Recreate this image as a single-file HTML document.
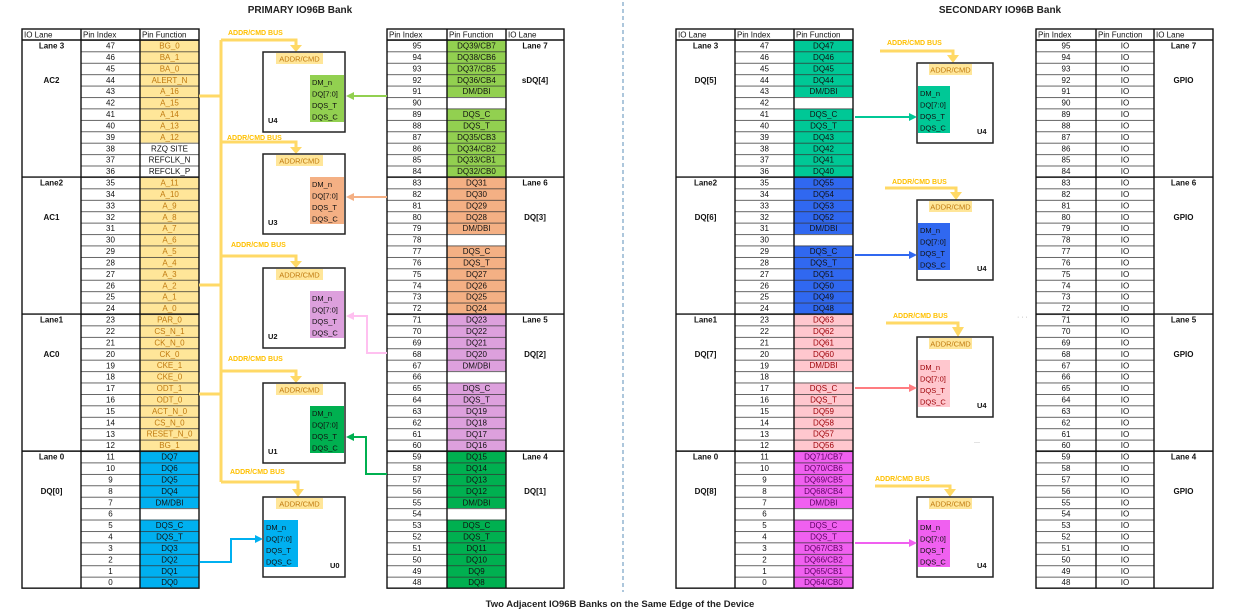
<!DOCTYPE html>
<html><head><meta charset="utf-8"><style>
html,body{margin:0;padding:0;background:#fff;}
svg{display:block;font-family:"Liberation Sans",sans-serif;}
.t{font-size:8px;fill:#111;text-anchor:middle;}
.h{font-size:8px;fill:#111;}
.b{font-size:8px;font-weight:bold;fill:#111;text-anchor:middle;}
.y{font-size:8px;fill:#c07a10;text-anchor:middle;}
.bus{font-size:7px;font-weight:bold;fill:#ffc000;}
.ac{font-size:7.5px;fill:#c07a10;text-anchor:middle;}
.dq{font-size:7.5px;fill:#111;}
.u{font-size:7.5px;font-weight:bold;fill:#111;}
</style></head><body>
<svg width="1238" height="612" viewBox="0 0 1238 612" xmlns="http://www.w3.org/2000/svg">
<defs>
<pattern id="rows" patternUnits="userSpaceOnUse" x="0" y="40" width="1238" height="11.42">
<line x1="0" y1="0.4" x2="1238" y2="0.4" stroke="#333" stroke-width="0.8"/>
</pattern>
<g id="pins47">
<tspan>x</tspan>
</g>
</defs>

<text x="300" y="13" style="font-size:10px;font-weight:bold;fill:#222" text-anchor="middle">PRIMARY IO96B Bank</text>
<text x="1000" y="13" style="font-size:10px;font-weight:bold;fill:#222" text-anchor="middle">SECONDARY IO96B Bank</text>
<text x="620" y="607" style="font-size:9.5px;font-weight:bold;fill:#222" text-anchor="middle">Two Adjacent IO96B Banks on the Same Edge of the Device</text>
<line x1="623" y1="2" x2="623" y2="592" stroke="#5b8fb9" stroke-width="1" stroke-dasharray="4,3"/>

<!-- ===== colored cells ===== -->
<!-- LP func col 140-199 -->
<rect x="140" y="40" width="59" height="102.78" fill="#ffe699"/>
<rect x="140" y="177.04" width="59" height="274.08" fill="#ffe699"/>
<rect x="140" y="451.12" width="59" height="57.1" fill="#00b0f0"/>
<rect x="140" y="519.64" width="59" height="68.52" fill="#00b0f0"/>
<!-- RP func col 447-506 -->
<rect x="447" y="40" width="59" height="57.1" fill="#92d050"/>
<rect x="447" y="108.52" width="59" height="68.52" fill="#92d050"/>
<rect x="447" y="177.04" width="59" height="57.1" fill="#f4b084"/>
<rect x="447" y="245.56" width="59" height="68.52" fill="#f4b084"/>
<rect x="447" y="314.08" width="59" height="57.1" fill="#dda0dd"/>
<rect x="447" y="382.6" width="59" height="68.52" fill="#dda0dd"/>
<rect x="447" y="451.12" width="59" height="57.1" fill="#00b050"/>
<rect x="447" y="519.64" width="59" height="68.52" fill="#00b050"/>
<!-- SL func col 794-853 -->
<rect x="794" y="40" width="59" height="57.1" fill="#00c896"/>
<rect x="794" y="108.52" width="59" height="68.52" fill="#00c896"/>
<rect x="794" y="177.04" width="59" height="57.1" fill="#3068f0"/>
<rect x="794" y="245.56" width="59" height="68.52" fill="#3068f0"/>
<rect x="794" y="314.08" width="59" height="57.1" fill="#ffc7ce"/>
<rect x="794" y="382.6" width="59" height="68.52" fill="#ffc7ce"/>
<rect x="794" y="451.12" width="59" height="57.1" fill="#f060f0"/>
<rect x="794" y="519.64" width="59" height="68.52" fill="#f060f0"/>

<!-- row lines -->
<rect x="81" y="40" width="118" height="548.16" fill="url(#rows)"/>
<rect x="387" y="40" width="119" height="548.16" fill="url(#rows)"/>
<rect x="735" y="40" width="118" height="548.16" fill="url(#rows)"/>
<rect x="1036" y="40" width="118" height="548.16" fill="url(#rows)"/>

<!-- table frames -->
<g fill="none" stroke="#111" stroke-width="1.4">
<rect x="22" y="29" width="177" height="559.16"/>
<rect x="387" y="29" width="177" height="559.16"/>
<rect x="676" y="29" width="177" height="559.16"/>
<rect x="1036" y="29" width="177" height="559.16"/>
<path d="M81 29V588.16M140 29V588.16M447 29V588.16M506 29V588.16M735 29V588.16M794 29V588.16M1096 29V588.16M1154 29V588.16"/>
<path d="M22 40H199M22 177.04H199M22 314.08H199M22 451.12H199"/>
<path d="M387 40H564M387 177.04H564M387 314.08H564M387 451.12H564"/>
<path d="M676 40H853M676 177.04H853M676 314.08H853M676 451.12H853"/>
<path d="M1036 40H1213M1036 177.04H1213M1036 314.08H1213M1036 451.12H1213"/>
</g>

<!-- headers -->
<text class="h" x="24" y="37.5">IO Lane</text><text class="h" x="83" y="37.5">Pin Index</text><text class="h" x="142" y="37.5">Pin Function</text>
<text class="h" x="389" y="37.5">Pin Index</text><text class="h" x="449" y="37.5">Pin Function</text><text class="h" x="508" y="37.5">IO Lane</text>
<text class="h" x="678" y="37.5">IO Lane</text><text class="h" x="737" y="37.5">Pin Index</text><text class="h" x="796" y="37.5">Pin Function</text>
<text class="h" x="1038" y="37.5">Pin Index</text><text class="h" x="1098" y="37.5">Pin Function</text><text class="h" x="1156" y="37.5">IO Lane</text>

<!-- lane labels -->
<text class="b" x="51.5" y="48.5">Lane 3</text><text class="b" x="51.5" y="83">AC2</text>
<text class="b" x="51.5" y="185.5">Lane2</text><text class="b" x="51.5" y="220">AC1</text>
<text class="b" x="51.5" y="322.5">Lane1</text><text class="b" x="51.5" y="357">AC0</text>
<text class="b" x="51.5" y="459.6">Lane 0</text><text class="b" x="51.5" y="494">DQ[0]</text>
<text class="b" x="535" y="48.5">Lane 7</text><text class="b" x="535" y="83">sDQ[4]</text>
<text class="b" x="535" y="185.5">Lane 6</text><text class="b" x="535" y="220">DQ[3]</text>
<text class="b" x="535" y="322.5">Lane 5</text><text class="b" x="535" y="357">DQ[2]</text>
<text class="b" x="535" y="459.6">Lane 4</text><text class="b" x="535" y="494">DQ[1]</text>
<text class="b" x="705.5" y="48.5">Lane 3</text><text class="b" x="705.5" y="83">DQ[5]</text>
<text class="b" x="705.5" y="185.5">Lane2</text><text class="b" x="705.5" y="220">DQ[6]</text>
<text class="b" x="705.5" y="322.5">Lane1</text><text class="b" x="705.5" y="357">DQ[7]</text>
<text class="b" x="705.5" y="459.6">Lane 0</text><text class="b" x="705.5" y="494">DQ[8]</text>
<text class="b" x="1183.5" y="48.5">Lane 7</text><text class="b" x="1183.5" y="83">GPIO</text>
<text class="b" x="1183.5" y="185.5">Lane 6</text><text class="b" x="1183.5" y="220">GPIO</text>
<text class="b" x="1183.5" y="322.5">Lane 5</text><text class="b" x="1183.5" y="357">GPIO</text>
<text class="b" x="1183.5" y="459.6">Lane 4</text><text class="b" x="1183.5" y="494">GPIO</text>

<!-- LP pins -->
<text class="t"><tspan x="110.5" y="48.5">47</tspan><tspan x="110.5" dy="11.42">46</tspan><tspan x="110.5" dy="11.42">45</tspan><tspan x="110.5" dy="11.42">44</tspan><tspan x="110.5" dy="11.42">43</tspan><tspan x="110.5" dy="11.42">42</tspan><tspan x="110.5" dy="11.42">41</tspan><tspan x="110.5" dy="11.42">40</tspan><tspan x="110.5" dy="11.42">39</tspan><tspan x="110.5" dy="11.42">38</tspan><tspan x="110.5" dy="11.42">37</tspan><tspan x="110.5" dy="11.42">36</tspan><tspan x="110.5" dy="11.42">35</tspan><tspan x="110.5" dy="11.42">34</tspan><tspan x="110.5" dy="11.42">33</tspan><tspan x="110.5" dy="11.42">32</tspan><tspan x="110.5" dy="11.42">31</tspan><tspan x="110.5" dy="11.42">30</tspan><tspan x="110.5" dy="11.42">29</tspan><tspan x="110.5" dy="11.42">28</tspan><tspan x="110.5" dy="11.42">27</tspan><tspan x="110.5" dy="11.42">26</tspan><tspan x="110.5" dy="11.42">25</tspan><tspan x="110.5" dy="11.42">24</tspan><tspan x="110.5" dy="11.42">23</tspan><tspan x="110.5" dy="11.42">22</tspan><tspan x="110.5" dy="11.42">21</tspan><tspan x="110.5" dy="11.42">20</tspan><tspan x="110.5" dy="11.42">19</tspan><tspan x="110.5" dy="11.42">18</tspan><tspan x="110.5" dy="11.42">17</tspan><tspan x="110.5" dy="11.42">16</tspan><tspan x="110.5" dy="11.42">15</tspan><tspan x="110.5" dy="11.42">14</tspan><tspan x="110.5" dy="11.42">13</tspan><tspan x="110.5" dy="11.42">12</tspan><tspan x="110.5" dy="11.42">11</tspan><tspan x="110.5" dy="11.42">10</tspan><tspan x="110.5" dy="11.42">9</tspan><tspan x="110.5" dy="11.42">8</tspan><tspan x="110.5" dy="11.42">7</tspan><tspan x="110.5" dy="11.42">6</tspan><tspan x="110.5" dy="11.42">5</tspan><tspan x="110.5" dy="11.42">4</tspan><tspan x="110.5" dy="11.42">3</tspan><tspan x="110.5" dy="11.42">2</tspan><tspan x="110.5" dy="11.42">1</tspan><tspan x="110.5" dy="11.42">0</tspan></text>
<!-- SL pins -->
<text class="t"><tspan x="764.5" y="48.5">47</tspan><tspan x="764.5" dy="11.42">46</tspan><tspan x="764.5" dy="11.42">45</tspan><tspan x="764.5" dy="11.42">44</tspan><tspan x="764.5" dy="11.42">43</tspan><tspan x="764.5" dy="11.42">42</tspan><tspan x="764.5" dy="11.42">41</tspan><tspan x="764.5" dy="11.42">40</tspan><tspan x="764.5" dy="11.42">39</tspan><tspan x="764.5" dy="11.42">38</tspan><tspan x="764.5" dy="11.42">37</tspan><tspan x="764.5" dy="11.42">36</tspan><tspan x="764.5" dy="11.42">35</tspan><tspan x="764.5" dy="11.42">34</tspan><tspan x="764.5" dy="11.42">33</tspan><tspan x="764.5" dy="11.42">32</tspan><tspan x="764.5" dy="11.42">31</tspan><tspan x="764.5" dy="11.42">30</tspan><tspan x="764.5" dy="11.42">29</tspan><tspan x="764.5" dy="11.42">28</tspan><tspan x="764.5" dy="11.42">27</tspan><tspan x="764.5" dy="11.42">26</tspan><tspan x="764.5" dy="11.42">25</tspan><tspan x="764.5" dy="11.42">24</tspan><tspan x="764.5" dy="11.42">23</tspan><tspan x="764.5" dy="11.42">22</tspan><tspan x="764.5" dy="11.42">21</tspan><tspan x="764.5" dy="11.42">20</tspan><tspan x="764.5" dy="11.42">19</tspan><tspan x="764.5" dy="11.42">18</tspan><tspan x="764.5" dy="11.42">17</tspan><tspan x="764.5" dy="11.42">16</tspan><tspan x="764.5" dy="11.42">15</tspan><tspan x="764.5" dy="11.42">14</tspan><tspan x="764.5" dy="11.42">13</tspan><tspan x="764.5" dy="11.42">12</tspan><tspan x="764.5" dy="11.42">11</tspan><tspan x="764.5" dy="11.42">10</tspan><tspan x="764.5" dy="11.42">9</tspan><tspan x="764.5" dy="11.42">8</tspan><tspan x="764.5" dy="11.42">7</tspan><tspan x="764.5" dy="11.42">6</tspan><tspan x="764.5" dy="11.42">5</tspan><tspan x="764.5" dy="11.42">4</tspan><tspan x="764.5" dy="11.42">3</tspan><tspan x="764.5" dy="11.42">2</tspan><tspan x="764.5" dy="11.42">1</tspan><tspan x="764.5" dy="11.42">0</tspan></text>
<!-- RP pins -->
<text class="t"><tspan x="417" y="48.5">95</tspan><tspan x="417" dy="11.42">94</tspan><tspan x="417" dy="11.42">93</tspan><tspan x="417" dy="11.42">92</tspan><tspan x="417" dy="11.42">91</tspan><tspan x="417" dy="11.42">90</tspan><tspan x="417" dy="11.42">89</tspan><tspan x="417" dy="11.42">88</tspan><tspan x="417" dy="11.42">87</tspan><tspan x="417" dy="11.42">86</tspan><tspan x="417" dy="11.42">85</tspan><tspan x="417" dy="11.42">84</tspan><tspan x="417" dy="11.42">83</tspan><tspan x="417" dy="11.42">82</tspan><tspan x="417" dy="11.42">81</tspan><tspan x="417" dy="11.42">80</tspan><tspan x="417" dy="11.42">79</tspan><tspan x="417" dy="11.42">78</tspan><tspan x="417" dy="11.42">77</tspan><tspan x="417" dy="11.42">76</tspan><tspan x="417" dy="11.42">75</tspan><tspan x="417" dy="11.42">74</tspan><tspan x="417" dy="11.42">73</tspan><tspan x="417" dy="11.42">72</tspan><tspan x="417" dy="11.42">71</tspan><tspan x="417" dy="11.42">70</tspan><tspan x="417" dy="11.42">69</tspan><tspan x="417" dy="11.42">68</tspan><tspan x="417" dy="11.42">67</tspan><tspan x="417" dy="11.42">66</tspan><tspan x="417" dy="11.42">65</tspan><tspan x="417" dy="11.42">64</tspan><tspan x="417" dy="11.42">63</tspan><tspan x="417" dy="11.42">62</tspan><tspan x="417" dy="11.42">61</tspan><tspan x="417" dy="11.42">60</tspan><tspan x="417" dy="11.42">59</tspan><tspan x="417" dy="11.42">58</tspan><tspan x="417" dy="11.42">57</tspan><tspan x="417" dy="11.42">56</tspan><tspan x="417" dy="11.42">55</tspan><tspan x="417" dy="11.42">54</tspan><tspan x="417" dy="11.42">53</tspan><tspan x="417" dy="11.42">52</tspan><tspan x="417" dy="11.42">51</tspan><tspan x="417" dy="11.42">50</tspan><tspan x="417" dy="11.42">49</tspan><tspan x="417" dy="11.42">48</tspan></text>
<!-- SR pins -->
<text class="t"><tspan x="1066" y="48.5">95</tspan><tspan x="1066" dy="11.42">94</tspan><tspan x="1066" dy="11.42">93</tspan><tspan x="1066" dy="11.42">92</tspan><tspan x="1066" dy="11.42">91</tspan><tspan x="1066" dy="11.42">90</tspan><tspan x="1066" dy="11.42">89</tspan><tspan x="1066" dy="11.42">88</tspan><tspan x="1066" dy="11.42">87</tspan><tspan x="1066" dy="11.42">86</tspan><tspan x="1066" dy="11.42">85</tspan><tspan x="1066" dy="11.42">84</tspan><tspan x="1066" dy="11.42">83</tspan><tspan x="1066" dy="11.42">82</tspan><tspan x="1066" dy="11.42">81</tspan><tspan x="1066" dy="11.42">80</tspan><tspan x="1066" dy="11.42">79</tspan><tspan x="1066" dy="11.42">78</tspan><tspan x="1066" dy="11.42">77</tspan><tspan x="1066" dy="11.42">76</tspan><tspan x="1066" dy="11.42">75</tspan><tspan x="1066" dy="11.42">74</tspan><tspan x="1066" dy="11.42">73</tspan><tspan x="1066" dy="11.42">72</tspan><tspan x="1066" dy="11.42">71</tspan><tspan x="1066" dy="11.42">70</tspan><tspan x="1066" dy="11.42">69</tspan><tspan x="1066" dy="11.42">68</tspan><tspan x="1066" dy="11.42">67</tspan><tspan x="1066" dy="11.42">66</tspan><tspan x="1066" dy="11.42">65</tspan><tspan x="1066" dy="11.42">64</tspan><tspan x="1066" dy="11.42">63</tspan><tspan x="1066" dy="11.42">62</tspan><tspan x="1066" dy="11.42">61</tspan><tspan x="1066" dy="11.42">60</tspan><tspan x="1066" dy="11.42">59</tspan><tspan x="1066" dy="11.42">58</tspan><tspan x="1066" dy="11.42">57</tspan><tspan x="1066" dy="11.42">56</tspan><tspan x="1066" dy="11.42">55</tspan><tspan x="1066" dy="11.42">54</tspan><tspan x="1066" dy="11.42">53</tspan><tspan x="1066" dy="11.42">52</tspan><tspan x="1066" dy="11.42">51</tspan><tspan x="1066" dy="11.42">50</tspan><tspan x="1066" dy="11.42">49</tspan><tspan x="1066" dy="11.42">48</tspan></text>
<!-- SR func IO -->
<text class="t"><tspan x="1125" y="48.5">IO</tspan><tspan x="1125" dy="11.42">IO</tspan><tspan x="1125" dy="11.42">IO</tspan><tspan x="1125" dy="11.42">IO</tspan><tspan x="1125" dy="11.42">IO</tspan><tspan x="1125" dy="11.42">IO</tspan><tspan x="1125" dy="11.42">IO</tspan><tspan x="1125" dy="11.42">IO</tspan><tspan x="1125" dy="11.42">IO</tspan><tspan x="1125" dy="11.42">IO</tspan><tspan x="1125" dy="11.42">IO</tspan><tspan x="1125" dy="11.42">IO</tspan><tspan x="1125" dy="11.42">IO</tspan><tspan x="1125" dy="11.42">IO</tspan><tspan x="1125" dy="11.42">IO</tspan><tspan x="1125" dy="11.42">IO</tspan><tspan x="1125" dy="11.42">IO</tspan><tspan x="1125" dy="11.42">IO</tspan><tspan x="1125" dy="11.42">IO</tspan><tspan x="1125" dy="11.42">IO</tspan><tspan x="1125" dy="11.42">IO</tspan><tspan x="1125" dy="11.42">IO</tspan><tspan x="1125" dy="11.42">IO</tspan><tspan x="1125" dy="11.42">IO</tspan><tspan x="1125" dy="11.42">IO</tspan><tspan x="1125" dy="11.42">IO</tspan><tspan x="1125" dy="11.42">IO</tspan><tspan x="1125" dy="11.42">IO</tspan><tspan x="1125" dy="11.42">IO</tspan><tspan x="1125" dy="11.42">IO</tspan><tspan x="1125" dy="11.42">IO</tspan><tspan x="1125" dy="11.42">IO</tspan><tspan x="1125" dy="11.42">IO</tspan><tspan x="1125" dy="11.42">IO</tspan><tspan x="1125" dy="11.42">IO</tspan><tspan x="1125" dy="11.42">IO</tspan><tspan x="1125" dy="11.42">IO</tspan><tspan x="1125" dy="11.42">IO</tspan><tspan x="1125" dy="11.42">IO</tspan><tspan x="1125" dy="11.42">IO</tspan><tspan x="1125" dy="11.42">IO</tspan><tspan x="1125" dy="11.42">IO</tspan><tspan x="1125" dy="11.42">IO</tspan><tspan x="1125" dy="11.42">IO</tspan><tspan x="1125" dy="11.42">IO</tspan><tspan x="1125" dy="11.42">IO</tspan><tspan x="1125" dy="11.42">IO</tspan><tspan x="1125" dy="11.42">IO</tspan></text>

<!-- LP functions -->
<text class="y"><tspan x="169.5" y="48.5">BG_0</tspan><tspan x="169.5" dy="11.42">BA_1</tspan><tspan x="169.5" dy="11.42">BA_0</tspan><tspan x="169.5" dy="11.42">ALERT_N</tspan><tspan x="169.5" dy="11.42">A_16</tspan><tspan x="169.5" dy="11.42">A_15</tspan><tspan x="169.5" dy="11.42">A_14</tspan><tspan x="169.5" dy="11.42">A_13</tspan><tspan x="169.5" dy="11.42">A_12</tspan></text>
<text class="t"><tspan x="169.5" y="151.3">RZQ SITE</tspan><tspan x="169.5" dy="11.42">REFCLK_N</tspan><tspan x="169.5" dy="11.42">REFCLK_P</tspan></text>
<text class="y"><tspan x="169.5" y="185.5">A_11</tspan><tspan x="169.5" dy="11.42">A_10</tspan><tspan x="169.5" dy="11.42">A_9</tspan><tspan x="169.5" dy="11.42">A_8</tspan><tspan x="169.5" dy="11.42">A_7</tspan><tspan x="169.5" dy="11.42">A_6</tspan><tspan x="169.5" dy="11.42">A_5</tspan><tspan x="169.5" dy="11.42">A_4</tspan><tspan x="169.5" dy="11.42">A_3</tspan><tspan x="169.5" dy="11.42">A_2</tspan><tspan x="169.5" dy="11.42">A_1</tspan><tspan x="169.5" dy="11.42">A_0</tspan><tspan x="169.5" dy="11.42">PAR_0</tspan><tspan x="169.5" dy="11.42">CS_N_1</tspan><tspan x="169.5" dy="11.42">CK_N_0</tspan><tspan x="169.5" dy="11.42">CK_0</tspan><tspan x="169.5" dy="11.42">CKE_1</tspan><tspan x="169.5" dy="11.42">CKE_0</tspan><tspan x="169.5" dy="11.42">ODT_1</tspan><tspan x="169.5" dy="11.42">ODT_0</tspan><tspan x="169.5" dy="11.42">ACT_N_0</tspan><tspan x="169.5" dy="11.42">CS_N_0</tspan><tspan x="169.5" dy="11.42">RESET_N_0</tspan><tspan x="169.5" dy="11.42">BG_1</tspan></text>
<text class="t"><tspan x="169.5" y="459.6">DQ7</tspan><tspan x="169.5" dy="11.42">DQ6</tspan><tspan x="169.5" dy="11.42">DQ5</tspan><tspan x="169.5" dy="11.42">DQ4</tspan><tspan x="169.5" dy="11.42">DM/DBI</tspan><tspan x="169.5" dy="11.42"> </tspan><tspan x="169.5" dy="11.42">DQS_C</tspan><tspan x="169.5" dy="11.42">DQS_T</tspan><tspan x="169.5" dy="11.42">DQ3</tspan><tspan x="169.5" dy="11.42">DQ2</tspan><tspan x="169.5" dy="11.42">DQ1</tspan><tspan x="169.5" dy="11.42">DQ0</tspan></text>

<!-- RP functions -->
<text class="t"><tspan x="476.5" y="48.5">DQ39/CB7</tspan><tspan x="476.5" dy="11.42">DQ38/CB6</tspan><tspan x="476.5" dy="11.42">DQ37/CB5</tspan><tspan x="476.5" dy="11.42">DQ36/CB4</tspan><tspan x="476.5" dy="11.42">DM/DBI</tspan><tspan x="476.5" dy="11.42"> </tspan><tspan x="476.5" dy="11.42">DQS_C</tspan><tspan x="476.5" dy="11.42">DQS_T</tspan><tspan x="476.5" dy="11.42">DQ35/CB3</tspan><tspan x="476.5" dy="11.42">DQ34/CB2</tspan><tspan x="476.5" dy="11.42">DQ33/CB1</tspan><tspan x="476.5" dy="11.42">DQ32/CB0</tspan><tspan x="476.5" dy="11.42">DQ31</tspan><tspan x="476.5" dy="11.42">DQ30</tspan><tspan x="476.5" dy="11.42">DQ29</tspan><tspan x="476.5" dy="11.42">DQ28</tspan><tspan x="476.5" dy="11.42">DM/DBI</tspan><tspan x="476.5" dy="11.42"> </tspan><tspan x="476.5" dy="11.42">DQS_C</tspan><tspan x="476.5" dy="11.42">DQS_T</tspan><tspan x="476.5" dy="11.42">DQ27</tspan><tspan x="476.5" dy="11.42">DQ26</tspan><tspan x="476.5" dy="11.42">DQ25</tspan><tspan x="476.5" dy="11.42">DQ24</tspan><tspan x="476.5" dy="11.42">DQ23</tspan><tspan x="476.5" dy="11.42">DQ22</tspan><tspan x="476.5" dy="11.42">DQ21</tspan><tspan x="476.5" dy="11.42">DQ20</tspan><tspan x="476.5" dy="11.42">DM/DBI</tspan><tspan x="476.5" dy="11.42"> </tspan><tspan x="476.5" dy="11.42">DQS_C</tspan><tspan x="476.5" dy="11.42">DQS_T</tspan><tspan x="476.5" dy="11.42">DQ19</tspan><tspan x="476.5" dy="11.42">DQ18</tspan><tspan x="476.5" dy="11.42">DQ17</tspan><tspan x="476.5" dy="11.42">DQ16</tspan><tspan x="476.5" dy="11.42">DQ15</tspan><tspan x="476.5" dy="11.42">DQ14</tspan><tspan x="476.5" dy="11.42">DQ13</tspan><tspan x="476.5" dy="11.42">DQ12</tspan><tspan x="476.5" dy="11.42">DM/DBI</tspan><tspan x="476.5" dy="11.42"> </tspan><tspan x="476.5" dy="11.42">DQS_C</tspan><tspan x="476.5" dy="11.42">DQS_T</tspan><tspan x="476.5" dy="11.42">DQ11</tspan><tspan x="476.5" dy="11.42">DQ10</tspan><tspan x="476.5" dy="11.42">DQ9</tspan><tspan x="476.5" dy="11.42">DQ8</tspan></text>

<!-- SL functions -->
<text class="t"><tspan x="823.5" y="48.5">DQ47</tspan><tspan x="823.5" dy="11.42">DQ46</tspan><tspan x="823.5" dy="11.42">DQ45</tspan><tspan x="823.5" dy="11.42">DQ44</tspan><tspan x="823.5" dy="11.42">DM/DBI</tspan><tspan x="823.5" dy="11.42"> </tspan><tspan x="823.5" dy="11.42">DQS_C</tspan><tspan x="823.5" dy="11.42">DQS_T</tspan><tspan x="823.5" dy="11.42">DQ43</tspan><tspan x="823.5" dy="11.42">DQ42</tspan><tspan x="823.5" dy="11.42">DQ41</tspan><tspan x="823.5" dy="11.42">DQ40</tspan><tspan x="823.5" dy="11.42">DQ55</tspan><tspan x="823.5" dy="11.42">DQ54</tspan><tspan x="823.5" dy="11.42">DQ53</tspan><tspan x="823.5" dy="11.42">DQ52</tspan><tspan x="823.5" dy="11.42">DM/DBI</tspan><tspan x="823.5" dy="11.42"> </tspan><tspan x="823.5" dy="11.42">DQS_C</tspan><tspan x="823.5" dy="11.42">DQS_T</tspan><tspan x="823.5" dy="11.42">DQ51</tspan><tspan x="823.5" dy="11.42">DQ50</tspan><tspan x="823.5" dy="11.42">DQ49</tspan><tspan x="823.5" dy="11.42">DQ48</tspan></text>
<text class="t" style="fill:#9c0006"><tspan x="823.5" y="322.5">DQ63</tspan><tspan x="823.5" dy="11.42">DQ62</tspan><tspan x="823.5" dy="11.42">DQ61</tspan><tspan x="823.5" dy="11.42">DQ60</tspan><tspan x="823.5" dy="11.42">DM/DBI</tspan><tspan x="823.5" dy="11.42"> </tspan><tspan x="823.5" dy="11.42">DQS_C</tspan><tspan x="823.5" dy="11.42">DQS_T</tspan><tspan x="823.5" dy="11.42">DQ59</tspan><tspan x="823.5" dy="11.42">DQ58</tspan><tspan x="823.5" dy="11.42">DQ57</tspan><tspan x="823.5" dy="11.42">DQ56</tspan></text>
<text class="t" style="fill:#5a0060"><tspan x="823.5" y="459.6">DQ71/CB7</tspan><tspan x="823.5" dy="11.42">DQ70/CB6</tspan><tspan x="823.5" dy="11.42">DQ69/CB5</tspan><tspan x="823.5" dy="11.42">DQ68/CB4</tspan><tspan x="823.5" dy="11.42">DM/DBI</tspan><tspan x="823.5" dy="11.42"> </tspan><tspan x="823.5" dy="11.42">DQS_C</tspan><tspan x="823.5" dy="11.42">DQS_T</tspan><tspan x="823.5" dy="11.42">DQ67/CB3</tspan><tspan x="823.5" dy="11.42">DQ66/CB2</tspan><tspan x="823.5" dy="11.42">DQ65/CB1</tspan><tspan x="823.5" dy="11.42">DQ64/CB0</tspan></text>

<!-- ===== Primary bus ===== -->
<g stroke="#ffd966" stroke-width="3" fill="none">
<path d="M221 40V482"/>
<path d="M199 96H221M199 285H221M199 394H221"/>
<path d="M221 40H296V46M221 142H296V148M221 256H296V262M221 371H296V377M221 482H298V490"/>
</g>
<g fill="#ffd966">
<polygon points="290,45 302,45 296,52"/>
<polygon points="290,147 302,147 296,154"/>
<polygon points="290,261 302,261 296,268"/>
<polygon points="290,376 302,376 296,383"/>
<polygon points="292,489 304,489 298,497"/>
</g>
<text class="bus" x="228" y="35">ADDR/CMD BUS</text>
<text class="bus" x="227" y="140">ADDR/CMD BUS</text>
<text class="bus" x="231" y="247">ADDR/CMD BUS</text>
<text class="bus" x="228" y="361">ADDR/CMD BUS</text>
<text class="bus" x="230" y="474">ADDR/CMD BUS</text>

<!-- primary chips -->
<g transform="translate(263,52)">
<rect x="0" y="0" width="82" height="80" fill="#fff" stroke="#222" stroke-width="1.5"/>
<rect x="13" y="1" width="47" height="11" fill="#ffe699"/><text class="ac" x="36.5" y="9.5">ADDR/CMD</text>
<rect x="47" y="23" width="34" height="47" fill="#92d050"/>
<text class="dq" x="49" y="33">DM_n</text><text class="dq" x="49" y="44.5">DQ[7:0]</text><text class="dq" x="49" y="56">DQS_T</text><text class="dq" x="49" y="67.5">DQS_C</text>
<text class="u" x="5" y="71">U4</text></g>
<g transform="translate(263,154)">
<rect x="0" y="0" width="82" height="80" fill="#fff" stroke="#222" stroke-width="1.5"/>
<rect x="13" y="1" width="47" height="11" fill="#ffe699"/><text class="ac" x="36.5" y="9.5">ADDR/CMD</text>
<rect x="47" y="23" width="34" height="47" fill="#f4b084"/>
<text class="dq" x="49" y="33">DM_n</text><text class="dq" x="49" y="44.5">DQ[7:0]</text><text class="dq" x="49" y="56">DQS_T</text><text class="dq" x="49" y="67.5">DQS_C</text>
<text class="u" x="5" y="71">U3</text></g>
<g transform="translate(263,268)">
<rect x="0" y="0" width="82" height="80" fill="#fff" stroke="#222" stroke-width="1.5"/>
<rect x="13" y="1" width="47" height="11" fill="#ffe699"/><text class="ac" x="36.5" y="9.5">ADDR/CMD</text>
<rect x="47" y="23" width="34" height="47" fill="#dda0dd"/>
<text class="dq" x="49" y="33">DM_n</text><text class="dq" x="49" y="44.5">DQ[7:0]</text><text class="dq" x="49" y="56">DQS_T</text><text class="dq" x="49" y="67.5">DQS_C</text>
<text class="u" x="5" y="71">U2</text></g>
<g transform="translate(263,383)">
<rect x="0" y="0" width="82" height="80" fill="#fff" stroke="#222" stroke-width="1.5"/>
<rect x="13" y="1" width="47" height="11" fill="#ffe699"/><text class="ac" x="36.5" y="9.5">ADDR/CMD</text>
<rect x="47" y="23" width="34" height="47" fill="#00b050"/>
<text class="dq" x="49" y="33">DM_n</text><text class="dq" x="49" y="44.5">DQ[7:0]</text><text class="dq" x="49" y="56">DQS_T</text><text class="dq" x="49" y="67.5">DQS_C</text>
<text class="u" x="5" y="71">U1</text></g>
<g transform="translate(263,497)">
<rect x="0" y="0" width="82" height="80" fill="#fff" stroke="#222" stroke-width="1.5"/>
<rect x="13" y="1" width="47" height="11" fill="#ffe699"/><text class="ac" x="36.5" y="9.5">ADDR/CMD</text>
<rect x="1" y="23" width="34" height="47" fill="#00b0f0"/>
<text class="dq" x="3" y="33">DM_n</text><text class="dq" x="3" y="44.5">DQ[7:0]</text><text class="dq" x="3" y="56">DQS_T</text><text class="dq" x="3" y="67.5">DQS_C</text>
<text class="u" x="67" y="71">U0</text></g>

<!-- primary data arrows -->
<g fill="none" stroke-width="2">
<path d="M387 96H352" stroke="#92d050"/>
<path d="M387 197H352" stroke="#f4b084"/>
<path d="M387 353H367V316H352" stroke="#ffc0f0"/>
<path d="M387 474H366V437H352" stroke="#00b050"/>
<path d="M200 562H231V539H256" stroke="#00b0f0"/>
</g>
<polygon points="346,96 354,92 354,100" fill="#92d050"/>
<polygon points="346,197 354,193 354,201" fill="#f4b084"/>
<polygon points="346,316 354,312 354,320" fill="#ffc0f0"/>
<polygon points="346,437 354,433 354,441" fill="#00b050"/>
<polygon points="263,539 255,535 255,543" fill="#00b0f0"/>

<!-- ===== Secondary bus & chips ===== -->
<g stroke="#ffd966" stroke-width="3" fill="none">
<path d="M880 51H953V56M885 188H956V193M886 323H958V328M875 486H950V490"/>
</g>
<g fill="#ffd966">
<polygon points="947,55 959,55 953,63"/>
<polygon points="950,192 962,192 956,200"/>
<polygon points="952,327 964,327 958,337"/>
<polygon points="944,489 956,489 950,497"/>
</g>
<text class="bus" x="887" y="45">ADDR/CMD BUS</text>
<text class="bus" x="892" y="184">ADDR/CMD BUS</text>
<text class="bus" x="893" y="318">ADDR/CMD BUS</text>
<text class="bus" x="875" y="481">ADDR/CMD BUS</text>

<g transform="translate(917,63)">
<rect x="0" y="0" width="76" height="80" fill="#fff" stroke="#222" stroke-width="1.5"/>
<rect x="12" y="1" width="43" height="11" fill="#ffe699"/><text class="ac" x="33.5" y="9.5">ADDR/CMD</text>
<rect x="1" y="23" width="32" height="47" fill="#00c896"/>
<text class="dq" x="3" y="33">DM_n</text><text class="dq" x="3" y="44.5">DQ[7:0]</text><text class="dq" x="3" y="56">DQS_T</text><text class="dq" x="3" y="67.5">DQS_C</text>
<text class="u" x="60" y="71">U4</text></g>
<g transform="translate(917,200)">
<rect x="0" y="0" width="76" height="80" fill="#fff" stroke="#222" stroke-width="1.5"/>
<rect x="12" y="1" width="43" height="11" fill="#ffe699"/><text class="ac" x="33.5" y="9.5">ADDR/CMD</text>
<rect x="1" y="23" width="32" height="47" fill="#3068f0"/>
<text class="dq" x="3" y="33">DM_n</text><text class="dq" x="3" y="44.5">DQ[7:0]</text><text class="dq" x="3" y="56">DQS_T</text><text class="dq" x="3" y="67.5">DQS_C</text>
<text class="u" x="60" y="71">U4</text></g>
<g transform="translate(917,337)">
<rect x="0" y="0" width="76" height="80" fill="#fff" stroke="#222" stroke-width="1.5"/>
<rect x="12" y="1" width="43" height="11" fill="#ffe699"/><text class="ac" x="33.5" y="9.5">ADDR/CMD</text>
<rect x="1" y="23" width="32" height="47" fill="#ffc7ce"/>
<g style="fill:#9c0006"><text class="dq" x="3" y="33" style="fill:#9c0006">DM_n</text><text class="dq" x="3" y="44.5" style="fill:#9c0006">DQ[7:0]</text><text class="dq" x="3" y="56" style="fill:#9c0006">DQS_T</text><text class="dq" x="3" y="67.5" style="fill:#9c0006">DQS_C</text></g>
<text class="u" x="60" y="71">U4</text></g>
<g transform="translate(917,497)">
<rect x="0" y="0" width="76" height="80" fill="#fff" stroke="#222" stroke-width="1.5"/>
<rect x="12" y="1" width="43" height="11" fill="#ffe699"/><text class="ac" x="33.5" y="9.5">ADDR/CMD</text>
<rect x="1" y="23" width="32" height="47" fill="#f060f0"/>
<text class="dq" x="3" y="33">DM_n</text><text class="dq" x="3" y="44.5">DQ[7:0]</text><text class="dq" x="3" y="56">DQS_T</text><text class="dq" x="3" y="67.5">DQS_C</text>
<text class="u" x="60" y="71">U4</text></g>

<g fill="none" stroke-width="2">
<path d="M855 117H910" stroke="#00c896"/>
<path d="M855 255H910" stroke="#3068f0"/>
<path d="M855 388H910" stroke="#ff7c80"/>
<path d="M855 543H910" stroke="#f060f0"/>
</g>
<polygon points="917,117 909,113 909,121" fill="#00c896"/>
<polygon points="917,255 909,251 909,259" fill="#3068f0"/>
<polygon points="917,388 909,384 909,392" fill="#ff7c80"/>
<polygon points="917,543 909,539 909,547" fill="#f060f0"/>

<text x="1017" y="319" style="font-size:7px;fill:#999">· · ·</text>
<text x="974" y="444" style="font-size:6px;fill:#666">···</text>
</svg>
</body></html>
